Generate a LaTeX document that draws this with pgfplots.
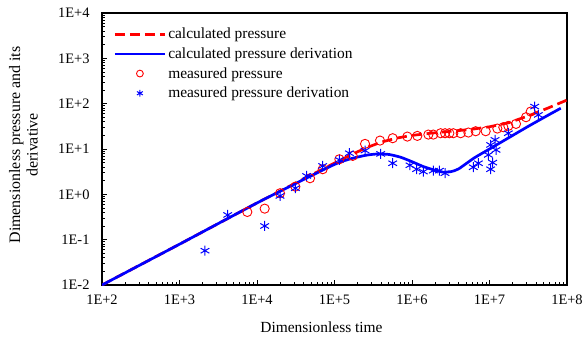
\documentclass[border=0pt]{standalone}
\usepackage{fontspec}
\setmainfont{Liberation Serif}
\usepackage{pgfplots}
\pgfplotsset{compat=1.18}
\definecolor{cred}{RGB}{255,0,0}
\definecolor{cblue}{RGB}{0,0,255}
\pgfplotsset{longlegend/.style={legend image code/.code={\draw[mark repeat=2,mark phase=2,##1] plot coordinates {(0bp,0bp)(25bp,0bp)(50bp,0bp)};}},
  marklegend/.style={legend image code/.code={\draw[mark repeat=2,mark phase=2,##1,mark size=3.4bp] plot coordinates {(0bp,0bp)(25bp,0bp)(50bp,0bp)};}}}
\begin{document}
\begin{tikzpicture}
\begin{axis}[
  at={(0,0)}, anchor=south west,
  scale only axis, width=465bp, height=272bp,
  xmode=log, ymode=log,
  xmin=1e2, xmax=1e8, ymin=1e-2, ymax=1e4,
  xtick={1e2,1e3,1e4,1e5,1e6,1e7,1e8},
  xticklabels={1E+2,1E+3,1E+4,1E+5,1E+6,1E+7,1E+8},
  ytick={1e-2,1e-1,1e0,1e1,1e2,1e3,1e4},
  yticklabels={1E-2,1E-1,1E+0,1E+1,1E+2,1E+3,1E+4},
  minor xtick={2e2,3e2,4e2,5e2,6e2,7e2,8e2,9e2,2e3,3e3,4e3,5e3,6e3,7e3,8e3,9e3,2e4,3e4,4e4,5e4,6e4,7e4,8e4,9e4,2e5,3e5,4e5,5e5,6e5,7e5,8e5,9e5,2e6,3e6,4e6,5e6,6e6,7e6,8e6,9e6,2e7,3e7,4e7,5e7,6e7,7e7,8e7,9e7},
  minor ytick={2e-2,3e-2,4e-2,5e-2,6e-2,7e-2,8e-2,9e-2,2e-1,3e-1,4e-1,5e-1,6e-1,7e-1,8e-1,9e-1,2,3,4,5,6,7,8,9,20,30,40,50,60,70,80,90,200,300,400,500,600,700,800,900,2e3,3e3,4e3,5e3,6e3,7e3,8e3,9e3},
  tick align=inside, xtick pos=bottom, ytick pos=left,
  major tick length=5bp, minor tick length=3bp,
  every tick/.style={black, line width=0.8bp},
  axis line style={line width=1.2bp},
  tick label style={font=\fontsize{14.5}{17}\selectfont},
  yticklabel style={xshift=-9bp},
  xticklabel style={yshift=-6bp},
  xlabel={Dimensionless time},
  xlabel style={font=\fontsize{15.5}{17}\selectfont, at={(axis description cs:0.472,-0.155)}, anchor=center},
  ylabel={Dimensionless pressure and its\\derivative},
  ylabel style={font=\fontsize{16}{17.5}\selectfont, align=center, at={(axis description cs:-0.169,0.515)}, anchor=center},
  legend cell align=left,
  legend style={at={(axis description cs:0.018,0.96)}, anchor=north west, draw=none, fill=none,
    font=\fontsize{15.5}{18}\selectfont, row sep=3.5bp},
]
\addplot[cred, line width=2.7bp, dash pattern=on 10bp off 5bp, longlegend]
coordinates {
(1e2,0.01) (3.162e2,0.02818) (1e3,0.07943) (3.162e3,0.2265) (1e4,0.6457)
(3.162e4,1.778) (1e5,4.898) (1.585e5,7.244) (2.512e5,10.47) (3.981e5,14.13)
(6.310e5,17.38) (1e6,19.95) (1.778e6,22.39) (3.162e6,24.55) (5.623e6,26.92)
(1e7,30.90) (1.778e7,38.02) (3.162e7,53.70) (5.623e7,79.43) (1e8,120.2)
};
\addlegendentry{calculated pressure}
\addplot[cblue, line width=2.7bp, smooth, tension=0.4, longlegend]
coordinates {
(1e2,0.01) (1e3,0.07943) (1e4,0.6457) (3.162e4,1.738) (1e5,4.571)
(1.585e5,6.026) (2.512e5,7.244) (3.548e5,7.762) (5.012e5,7.586) (7.079e5,6.607)
(1e6,5.248) (1.413e6,4.074) (1.995e6,3.388) (2.512e6,3.090) (3.162e6,3.162)
(3.981e6,3.631) (6.310e6,6.310) (1e7,10) (1.778e7,17.78) (3.162e7,31.62)
(5.623e7,54.95) (8.318e7,79.43)
};
\addlegendentry{calculated pressure derivation}
\addplot[only marks, mark=o, mark size=4.6bp, cred, mark options={line width=0.9bp, solid}, marklegend]
coordinates {
(7499,0.4083) (1.256e4,0.4831) (1.982e4,1.057) (3.126e4,1.479) (4.831e4,2.265)
(7.047e4,3.581) (1.156e5,5.943) (1.718e5,7.047) (2.477e5,12.97) (3.864e5,15.35)
(5.636e5,17.30) (8.710e5,18.79) (1.172e6,19.45) (1.626e6,20.80) (1.884e6,20.80)
(2.344e6,22.28) (2.667e6,22.28) (3.034e6,22.28) (3.412e6,22.28) (4.246e6,22.28)
(5.333e6,23.07) (6.637e6,24.66) (8.933e6,24.66) (1.262e7,28.25) (1.507e7,30.20)
(1.750e7,32.28) (2.198e7,35.81) (2.958e7,50.23) (3.404e7,66.99)
};
\addlegendentry{measured pressure}
\addplot[only marks, mark=asterisk, mark size=5bp, cblue, mark options={line width=1bp, solid}, marklegend]
coordinates {
(2133,0.05715) (4188,0.3508) (1.256e4,0.2004) (1.982e4,0.9226) (3.126e4,1.365)
(4.375e4,2.547) (7.047e4,4.236) (1.156e5,5.741) (1.556e5,8.072) (2.477e5,9.226)
(3.945e5,7.798) (5.636e5,4.853) (9.419e5,4.385) (1.148e6,3.581) (1.400e6,3.170)
(1.884e6,3.334) (2.254e6,3.334) (2.667e6,2.924) (6.180e6,3.963) (7.178e6,4.853)
(9.661e6,7.413) (1.035e7,3.581) (1.099e7,5.012) (1.035e7,12.30) (1.178e7,15.89)
(1.213e7,9.550) (1.750e7,22.28) (3.828e7,86.30) (4.266e7,56.62)
};
\addlegendentry{measured pressure derivation}
\end{axis}
\pgfresetboundingbox
\path[use as bounding box] (-102bp,-52bp) rectangle (482bp,285bp);
\end{tikzpicture}
\end{document}
